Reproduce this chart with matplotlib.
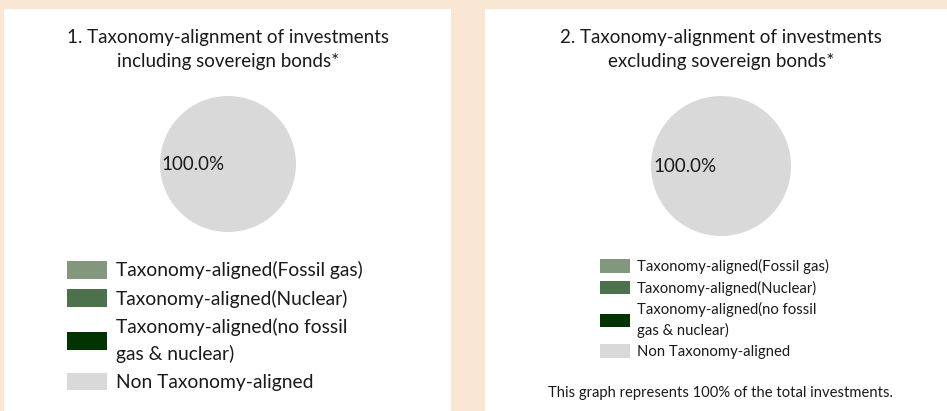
import matplotlib.pyplot as plt
from matplotlib.patches import Rectangle

plt.rcParams['font.family'] = ['Lato', 'DejaVu Sans']

# data
categories = ["Taxonomy-aligned(Fossil gas)",
              "Taxonomy-aligned(Nuclear)",
              "Taxonomy-aligned(no fossil\ngas & nuclear)",
              "Non Taxonomy-aligned"]
colors = ["#82977d", "#4d704d", "#003300", "#d9d9d9"]
incl_sovereign = [0.0, 0.0, 0.0, 100.0]
excl_sovereign = [0.0, 0.0, 0.0, 100.0]
titles = ["1. Taxonomy-alignment of investments\nincluding sovereign bonds*",
          "2. Taxonomy-alignment of investments\nexcluding sovereign bonds*"]
footer = "This graph represents 100% of the total investments."

W, H = 947, 411
fig = plt.figure(figsize=(W / 100, H / 100), dpi=100, facecolor="#f9e6d3")


def fx(x):
    return x / W


def fy(y):
    return 1 - y / H


# white panels
for x0, x1 in [(4, 451), (485, 947)]:
    fig.add_artist(Rectangle((fx(x0), 0), (x1 - x0) / W, fy(9), transform=fig.transFigure,
                             facecolor="white", edgecolor="none", zorder=0))


def pct(p):
    return f"{p:.1f}%" if p > 0 else ""


def draw_panel(values, title, cx, cy, r, lfont, lx, ly, lsp, tsize):
    fig.text(fx(cx), fy(50), title, ha="center", va="center", fontsize=13.5,
             linespacing=1.5, color="#1a1a1a")
    ax = fig.add_axes([fx(cx - r), fy(cy + r), 2 * r / W, 2 * r / H])
    wedges, _, autotexts = ax.pie(values, colors=colors, startangle=0, autopct=pct,
                                  pctdistance=0.51, wedgeprops=dict(linewidth=0),
                                  textprops=dict(fontsize=tsize, color="#1a1a1a"))
    ax.set_xlim(-1, 1)
    ax.set_ylim(-1, 1)
    fpx = lfont * 100 / 72
    leg = fig.legend(wedges, categories, loc="upper left", bbox_to_anchor=(fx(lx), fy(ly)),
                     frameon=False, fontsize=lfont, borderpad=0, borderaxespad=0,
                     handlelength=lsp[0] / fpx, handleheight=lsp[1] / fpx,
                     handletextpad=lsp[2] / fpx, labelspacing=lsp[3])
    for t in leg.get_texts():
        t.set_linespacing(lsp[4])
        t.set_color("#1a1a1a")


draw_panel(incl_sovereign, titles[0], 228, 164, 68, 13.9, 67, 261, (40, 20, 9, 0.52, 1.56), 13.5)
draw_panel(excl_sovereign, titles[1], 721, 166, 70, 10.7, 600, 259, (30, 15, 7, 0.44, 1.45), 13.5)

fig.text(fx(720), fy(393), footer, ha="center", va="center", fontsize=10.6, color="#1a1a1a")

fig.savefig("out.png", dpi=100, facecolor=fig.get_facecolor())
